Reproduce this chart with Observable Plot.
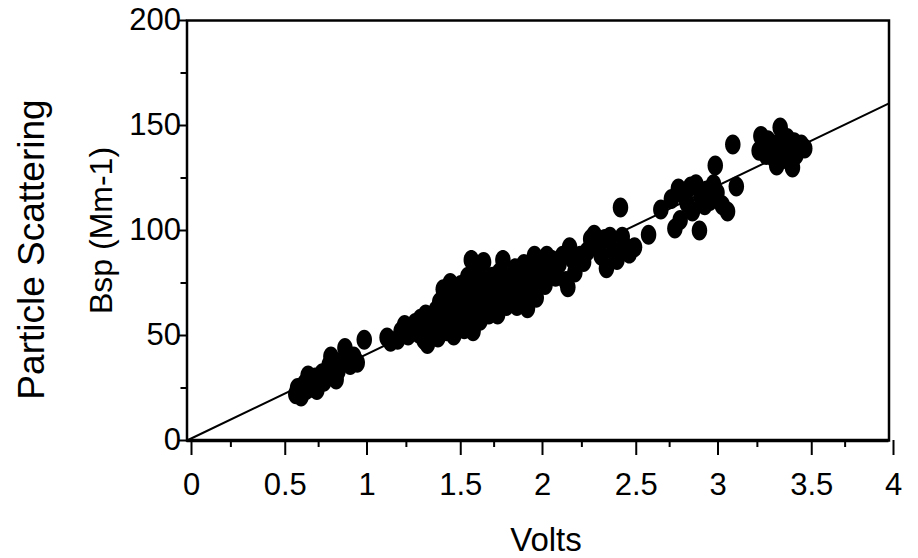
<!DOCTYPE html>
<html>
<head>
<meta charset="utf-8">
<script src="https://cdn.jsdelivr.net/npm/d3@7"></script>
<script src="https://cdn.jsdelivr.net/npm/@observablehq/plot@0.6"></script>
<style>
  html, body { margin: 0; padding: 0; background: #fff; }
  #chart { width: 918px; height: 558px; }
</style>
</head>
<body>
<div id="chart"></div>
<script>
// Measured points (Volts, Bsp Mm-1)
const volts = [
  0.62,0.63,0.65,0.67,0.68,0.69,0.70,0.72,0.73,0.74,0.76,0.77,0.78,0.80,0.81,0.82,0.83,0.85,0.86,0.87,0.90,0.91,0.93,0.95,0.97,1.01,
  1.14,1.16,1.20,1.22,1.24,1.26,1.28,1.30,1.32,1.33,1.35,1.36,1.37,1.38,1.40,1.41,1.42,1.43,1.44,1.45,
  1.46,1.47,1.48,1.49,1.50,1.50,1.51,1.52,1.53,1.54,1.55,1.56,1.57,1.58,1.58,1.59,1.60,1.61,1.62,1.62,1.63,1.64,1.65,1.66,1.67,1.68,1.69,1.70,1.71,1.72,1.73,1.74,1.75,
  1.76,1.77,1.78,1.79,1.80,1.81,1.82,1.83,1.84,1.85,1.86,1.87,1.88,1.89,1.90,1.91,1.92,1.93,1.94,1.95,1.96,1.97,1.98,1.99,2.00,2.01,2.02,2.04,2.05,2.07,2.08,2.10,2.12,2.14,2.16,2.17,2.18,2.20,2.21,
  2.24,2.26,2.28,2.30,2.32,2.34,2.36,2.38,2.39,2.41,2.43,2.45,2.47,2.48,2.50,2.52,2.55,2.63,
  2.70,2.76,2.78,2.80,2.81,2.83,2.85,2.87,2.88,2.90,2.92,2.93,2.95,2.96,2.98,3.00,3.01,3.02,3.05,3.08,3.11,3.13,
  3.26,3.27,3.28,3.30,3.31,3.33,3.34,3.35,3.36,3.37,3.38,3.39,3.40,3.41,3.42,3.43,3.45,3.46,3.47,3.48,3.50,3.52
];
const bsp = [
  22,25,21,27,24,31,28,25,30,24,29,32,28,31,36,40,34,29,33,37,44,39,36,40,37,48,
  49,47,48,52,55,50,53,56,51,58,48,60,46,54,57,51,62,49,66,55,
  72,60,52,68,58,75,63,50,70,56,66,74,60,53,70,64,78,58,86,68,52,73,62,80,57,70,85,65,75,60,68,78,63,
  72,60,80,67,86,74,64,70,78,68,75,82,64,72,78,66,84,70,63,76,82,73,88,68,80,76,85,74,88,80,86,78,84,88,76,73,92,86,80,
  88,85,90,96,98,93,88,96,82,97,90,86,111,97,92,89,92,98,
  110,115,101,120,105,117,113,121,109,122,100,116,112,119,114,122,131,118,112,109,141,121,
  138,145,140,136,143,139,135,141,131,137,149,142,134,139,144,137,130,142,136,139,141,139
];
// Fitted line endpoints
const lineX = [0, 4];
const lineY = [0, 160.5];
// Ticks
const xMajorInt = [0, 1, 2, 3, 4];
const xMajorHalf = [0.5, 1.5, 2.5, 3.5];
const xMinor = [0.25, 0.75, 1.25, 1.75, 2.25, 2.75, 3.25, 3.75];
const yMajor = [0, 50, 100, 150, 200];
const yMinor = [25, 75, 125, 175];

const points = volts.map((v, i) => ({v, b: bsp[i]}));
const fit = lineX.map((v, i) => ({v, b: lineY[i]}));

const ellipse = {
  draw(ctx, size) {
    const r = Math.sqrt(size / Math.PI);
    const a = r * 0.775, b = r, k = 0.5523;
    ctx.moveTo(a, 0);
    ctx.bezierCurveTo(a, k * b, k * a, b, 0, b);
    ctx.bezierCurveTo(-k * a, b, -a, k * b, -a, 0);
    ctx.bezierCurveTo(-a, -k * b, -k * a, -b, 0, -b);
    ctx.bezierCurveTo(k * a, -b, a, -k * b, a, 0);
    ctx.closePath();
  }
};

const font = "'Liberation Sans', Arial, Helvetica, sans-serif";
const fmt = d => String(d);

const chart = Plot.plot({
  width: 918,
  height: 558,
  marginLeft: 186.5,
  marginRight: 29.5,
  marginTop: 20,
  marginBottom: 118,
  style: {fontFamily: font, background: "#fff", color: "#000", overflow: "visible"},
  x: {domain: [0, 4]},
  y: {domain: [0, 200]},
  marks: [
    Plot.line(fit, {x: "v", y: "b", stroke: "#000", strokeWidth: 2}),
    Plot.dot(points, {x: "v", y: "b", r: 10, symbol: ellipse, fill: "#000", stroke: "none"}),
    Plot.frame({stroke: "#000", strokeWidth: 2.5}),
    Plot.ruleY([0], {stroke: "#000", strokeWidth: 3.5}),
    Plot.axisX({ticks: xMajorInt, tickSize: 15, tickPadding: 17, tickFormat: fmt, fontSize: 31, dx: 4.5, label: null, strokeWidth: 2}),
    Plot.axisX({ticks: xMajorHalf, tickSize: 15, tickPadding: 17, tickFormat: fmt, fontSize: 31, dx: 10.5, label: null, strokeWidth: 2}),
    Plot.axisX({ticks: xMinor, tickSize: 7, tickFormat: () => "", label: null, strokeWidth: 2}),
    Plot.axisY({ticks: yMajor, tickSize: 8, tickPadding: -2, tickFormat: fmt, fontSize: 31, label: null, strokeWidth: 2}),
    Plot.axisY({ticks: yMinor, tickSize: 6, tickFormat: () => "", label: null, strokeWidth: 2}),
    Plot.text(["Volts"], {frameAnchor: "bottom", textAnchor: "middle", dx: 8, dy: 99.5, fontSize: 33, fill: "#000", lineAnchor: "middle"}),
    Plot.text(["Particle Scattering"], {frameAnchor: "left", textAnchor: "middle", dx: -155, dy: 19, rotate: -90, fontSize: 37, fill: "#000", lineAnchor: "middle"}),
    Plot.text(["Bsp (Mm-1)"], {frameAnchor: "left", textAnchor: "middle", dx: -85.5, dy: 0, rotate: -90, fontSize: 32, fill: "#000", lineAnchor: "middle"})
  ]
});
document.getElementById("chart").appendChild(chart);
</script>
</body>
</html>
